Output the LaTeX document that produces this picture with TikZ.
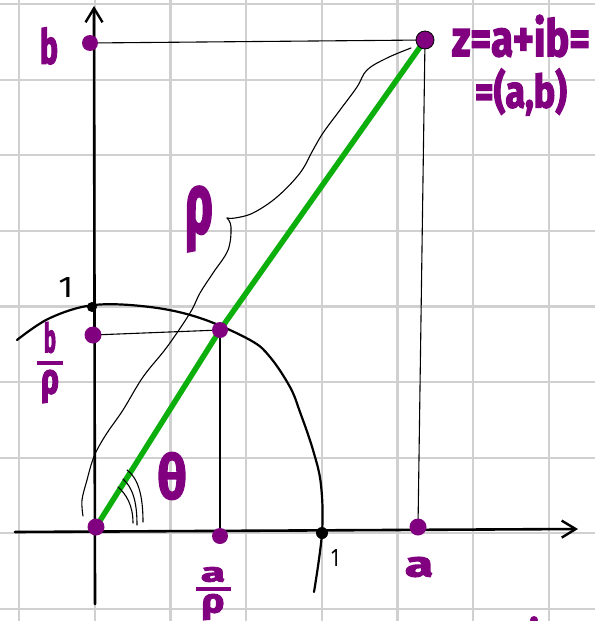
\documentclass[tikz,border=0pt]{standalone}
\usepackage{fontspec}
\usepackage{graphicx}
\newfontfamily\hand{Fira Sans}
\newfontfamily\handb{Fira Sans}[FakeBold=3]
\usetikzlibrary{arrows.meta}
\definecolor{pur}{RGB}{128,0,128}
\definecolor{grn}{RGB}{12,175,12}
\definecolor{gridc}{RGB}{208,208,208}
\newcommand\hw[3]{\resizebox*{#1pt}{#2pt}{\handb\bfseries #3}}
\newcommand\hn[3]{\resizebox*{#1pt}{#2pt}{\hand #3}}
% fraction: bar width, numerator box, gap1, bar thickness, gap2, denominator box
\newcommand\hfrac[6]{\vbox{\offinterlineskip
  \hbox to #1pt{\hss#2\hss}\kern#3pt
  \hbox{\rule{#1pt}{#4pt}}\kern#5pt
  \hbox to #1pt{\hss#6\hss}}}
\begin{document}
\begin{tikzpicture}[x=1pt,y=-1pt,
  pdot/.style={circle,fill=pur,inner sep=0pt,minimum size=#1},
  pdot/.default=17pt,
  bdot/.style={circle,fill=black,inner sep=0pt,minimum size=#1},
  lab/.style={inner sep=0pt,text=pur},
  blab/.style={inner sep=0pt,text=black},
  thinl/.style={line width=1.1pt,line cap=round,line join=round},
  axisl/.style={line width=2.6pt,line cap=round},
  tip/.style={-{Straight Barb[length=14pt,width=17pt,line width=2.4pt]}},
  gridl/.style={gridc,line width=2.2pt}
  ]
\useasboundingbox (0,0) rectangle (595,621);
\fill[white] (0,0) rectangle (595,621);
% grid
\foreach \i in {0,...,7} \draw[gridl] ({19+75.7*\i},0) -- ({19+75.7*\i},621);
\foreach \j in {0,...,8} \draw[gridl] (0,{4+75.6*\j}) -- (595,{4+75.6*\j});

% axis end points
\coordinate (ybot) at (95,604);
\coordinate (ytop) at (94,6);
\coordinate (xl) at (15,532);
\coordinate (xr) at (578,529);
\draw[axisl,tip] (ybot) -- (ytop);
\draw[axisl,tip] (xl) -- (xr);

% unit circle arc
\draw[line width=2.2pt,line cap=round] plot[smooth,tension=0.6] coordinates {(17,340) (50,318) (94,305) (150,307) (200,318) (250,340) (270,357) (290,387) (300,412) (313,450) (321,485) (322,533) (314,592)};

% points (coordinates of dots)
\coordinate (cB) at (90,43);
\coordinate (cZ) at (425,40);
\coordinate (cBR) at (93,335);
\coordinate (cP) at (220,330);
\coordinate (cO) at (96,527);
\coordinate (cAR) at (220,536);
\coordinate (cA) at (418,527);

% thin projection lines
\draw[thinl] (cB) -- (cZ);
\draw[thinl] (cZ) -- (cA);
\draw[thinl] (cBR) -- (cP);
\draw[thinl] (cP) -- (cAR);

% brace for rho
\draw[thinl] plot[smooth,tension=0.6] coordinates {(411,48) (387,58) (367,70) (357,87) (340,110) (323,133) (313,150) (300,173) (277,197) (253,213) (235,218) (227,218)};
\draw[thinl] plot[smooth,tension=0.6] coordinates {(227,218) (231,227) (228,250) (213,273) (200,293) (190,313) (167,347) (143,377) (123,410) (107,433) (97,450) (92,462) (87,480) (82,500) (83,516)};

% green modulus line
\draw[grn,line width=5.5pt,line cap=round,line join=round] (cO) -- (cP) -- (cZ);

% angle marks
\draw[thinl] (118,487) .. controls (126,494) and (133,505) .. (133,523);
\draw[thinl] (123,479) .. controls (132,487) and (137,500) .. (137,525);
\draw[thinl] (127,470) .. controls (138,478) and (143,495) .. (143,522);

% dots
\node[pdot=16pt] (B) at (cB) {};
\node[pdot=18pt,draw=black,line width=0.8pt] (Z) at (cZ) {};
\node[pdot=17pt] (BR) at (cBR) {};
\node[pdot=16pt] (P) at (cP) {};
\node[pdot=17pt] (O) at (cO) {};
\node[pdot=16pt] (AR) at (cAR) {};
\node[pdot=17pt] (A) at (cA) {};
\node[bdot=10pt] (E2) at (92,307) {};
\node[bdot=12pt] (E1) at (322,533) {};
\node[pdot=8pt] (Q) at (534,620) {};

% labels
\node[lab] (tb) at (49,46) {\hw{18}{37}{b}};
\node[blab] (t1y) at (66,287) {\hn{15}{20}{1}};
\node[lab] (tbr) at (50,362.5) {\hfrac{26}{\hw{12}{31}{b}}{8}{4}{5}{\hw{18}{33}{ρ}}};
\node[lab] (tth) at (172,476) {\hw{29}{47}{θ}};
\node[lab] (tar) at (213,593.5) {\hfrac{35}{\hw{24}{15}{a}}{5}{4}{3}{\hw{23}{26}{ρ}}};
\node[blab] (t1x) at (335,558) {\hn{8}{17}{1}};
\node[lab] (ta) at (419,567) {\hw{28}{20}{a}};
\node[lab] (trho) at (199,219) {\hw{28}{65}{ρ}};
\node[lab] (tz) at (521,36) {\hw{138}{42}{z=a+ib=}};
\node[lab] (tz2) at (521,92) {\hw{92}{47}{=(a,b)}};
\end{tikzpicture}
\end{document}
